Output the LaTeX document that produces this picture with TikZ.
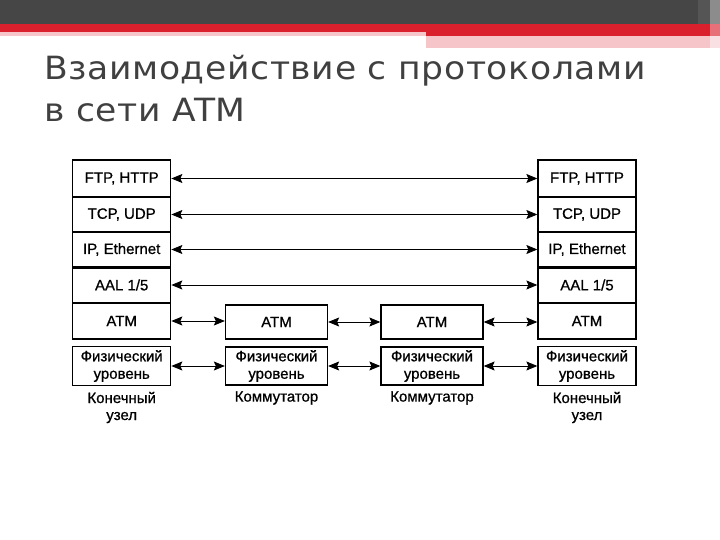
\documentclass[tikz,border=0pt]{standalone}
\usepackage{fontspec}
\setmainfont{DejaVu Sans}[LetterSpace=2,FakeStretch=1.08]
\newfontfamily\diagfont{Liberation Sans}[FakeBold=0.8]
\usetikzlibrary{arrows.meta}
\definecolor{hdark}{HTML}{464646}
\definecolor{hdarkb}{HTML}{555555}
\definecolor{hgrayend}{HTML}{8C8C8C}
\definecolor{hred}{HTML}{D9202C}
\definecolor{hredend}{HTML}{E87078}
\definecolor{hpink}{HTML}{F5C5C9}
\definecolor{hpinkend}{HTML}{F9E0E2}
\definecolor{titlegray}{HTML}{404040}
\begin{document}
\begin{tikzpicture}[x=1pt,y=-1pt,
  box/.style={draw=black, line width=1.3pt, inner sep=0pt, align=center,
    font=\diagfont\fontsize{15}{17.5}\selectfont},
  endbox/.style={box, minimum width=98pt},
  midbox/.style={box, minimum width=102pt},
  arr/.style={line width=0.9pt, {Stealth[length=11pt,width=9pt,inset=2pt]}-{Stealth[length=11pt,width=9pt,inset=2pt]}},
  lbl/.style={align=center, inner sep=0pt, font=\diagfont\fontsize{15}{17}\selectfont},
  titletext/.style={anchor=base west, inner sep=0pt, text=titlegray, font=\fontsize{32}{32}\selectfont}]
\useasboundingbox (0,0) rectangle (720,540);
\fill[white] (0,0) rectangle (720,540);
% header
\fill[hdark] (0,0) rectangle (698,24);
\fill[hdarkb] (698,0) rectangle (710,24);
\fill[hgrayend] (710,0) rectangle (720,24);
\fill[hred] (0,24) rectangle (426,32);
\fill[hred] (426,24) rectangle (710,36);
\fill[hredend] (710,24) rectangle (720,36);
\fill[hpink] (0,32) rectangle (426,36);
\fill[hpink] (426,36) rectangle (710,48.5);
\fill[hpinkend] (710,36) rectangle (720,48.5);
% title
\node[titletext] (t1) at (44,80) {Взаимодействие с протоколами};
\node[titletext] (t2) at (44,122) {в сети ATM};
% left end node
\node[endbox, minimum height=37pt] (lftp) at (121.7,178.5) {FTP, HTTP};
\node[endbox, minimum height=35pt] (ltcp) at (121.7,214.5) {TCP, UDP};
\node[endbox, minimum height=35pt] (lip)  at (121.7,249.5) {IP, Ethernet};
\node[endbox, minimum height=36pt] (laal) at (121.7,285) {AAL 1/5};
\node[endbox, minimum height=36pt] (latm) at (121.7,321) {ATM};
\node[endbox, minimum height=39pt] (lphy) at (121.7,366) {Физический\\уровень};
\draw[line width=2.6pt] (lip.south west) -- (lip.south east);
% right end node
\node[endbox, minimum height=37pt] (rftp) at (587,178.5) {FTP, HTTP};
\node[endbox, minimum height=35pt] (rtcp) at (587,214.5) {TCP, UDP};
\node[endbox, minimum height=35pt] (rip)  at (587,249.5) {IP, Ethernet};
\node[endbox, minimum height=36pt] (raal) at (587,285) {AAL 1/5};
\node[endbox, minimum height=36pt] (ratm) at (587,321) {ATM};
\node[endbox, minimum height=39pt] (rphy) at (587,366) {Физический\\уровень};
\draw[line width=2.6pt] (rip.south west) -- (rip.south east);
% switches
\node[midbox, minimum height=34pt] (s1atm) at (276.5,322) {ATM};
\node[midbox, minimum height=38pt] (s1phy) at (276.5,366) {Физический\\уровень};
\node[midbox, minimum height=34pt] (s2atm) at (432,322) {ATM};
\node[midbox, minimum height=38pt] (s2phy) at (432,366) {Физический\\уровень};
% labels
\node[lbl] (lend) at (121.7,407.5) {Конечный\\узел};
\node[lbl] (s1lbl) at (276.5,398) {Коммутатор};
\node[lbl] (s2lbl) at (432,398) {Коммутатор};
\node[lbl] (rend) at (587,407.5) {Конечный\\узел};
% long arrows
\draw[arr] (lftp.east) -- (rftp.west);
\draw[arr] (ltcp.east) -- (rtcp.west);
\draw[arr] (lip.east) -- (rip.west);
\draw[arr] (laal.east) -- (raal.west);
% short arrows
\draw[arr] (latm.east) -- (s1atm.west |- latm.east);
\draw[arr] (s1atm.east) -- (s2atm.west);
\draw[arr] (s2atm.east) -- (ratm.west |- s2atm.east);
\draw[arr] (lphy.east) -- (s1phy.west);
\draw[arr] (s1phy.east) -- (s2phy.west);
\draw[arr] (s2phy.east) -- (rphy.west);
\end{tikzpicture}
\end{document}
